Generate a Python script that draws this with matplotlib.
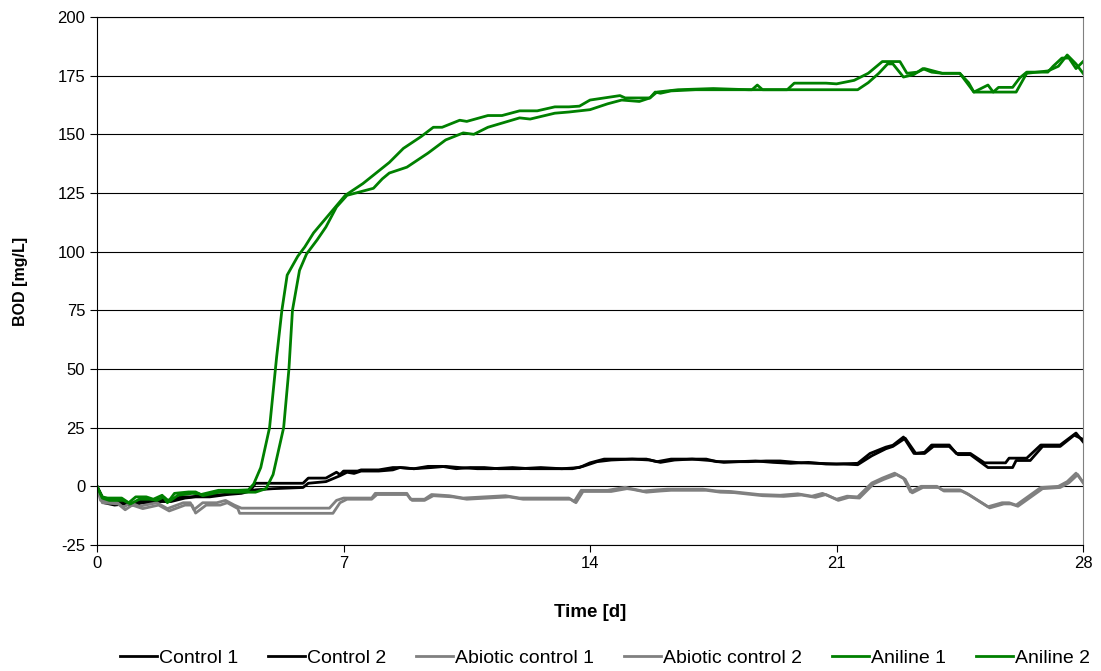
import matplotlib
matplotlib.use("Agg")
import matplotlib.pyplot as plt

plt.rcParams['font.family'] = ['Liberation Sans', 'DejaVu Sans']
plt.rcParams['axes.unicode_minus'] = False

# BOD readings per bottle, time in days
control1_t = [0, 0.2, 0.4, 0.75, 0.9, 1.2, 1.7, 2.0, 2.4, 2.65,
              3.0, 3.6, 4.0, 4.35, 4.5, 5.85, 6.0, 6.5, 6.8, 6.9,
              7.0, 7.4, 7.5, 8.0, 8.4, 8.6, 9.0, 9.4, 9.8, 10.2,
              10.6, 11.0, 11.4, 12.0, 12.6, 13.2, 13.7, 14.0, 14.4, 15.0,
              15.6, 15.9, 16.3, 17.0, 17.3, 17.6, 18.0, 18.5, 19.0, 19.4,
              20.0, 20.5, 21.0, 21.6, 21.95, 22.4, 22.6, 22.9, 23.2, 23.5,
              23.7, 24.2, 24.4, 24.8, 25.2, 25.8, 25.9, 26.4, 26.8, 27.35,
              27.8, 28.0]
control1_v = [0, -6, -6.5, -6.5, -7.5, -6.5, -5.5, -6, -4.5, -4.5,
              -4, -3.5, -2.5, -2, 1.3, 1.3, 3.5, 3.5, 6, 5,
              6.5, 6.5, 7, 7, 8, 8, 7.5, 8.5, 8.5, 7.5,
              8, 8, 7.5, 7.5, 8, 7.5, 8, 10, 11.6, 11.6,
              11.6, 10.5, 11.6, 11.6, 11.6, 10.5, 10.5, 10.5, 10.8, 10.8,
              10, 9.8, 9.5, 9.8, 14, 16.7, 17.5, 21, 14, 14.5,
              17.6, 17.6, 14, 14, 10, 10, 12, 12, 17.6, 17.6,
              22.7, 19]

control2_t = [0, 0.2, 0.5, 0.8, 1.0, 1.3, 1.8, 2.1, 2.5, 2.8,
              3.2, 3.7, 4.1, 4.5, 5.0, 5.85, 6.0, 6.5, 6.9, 7.1,
              7.3, 7.5, 8.0, 8.4, 8.6, 9.0, 9.5, 9.9, 10.3, 10.8,
              11.2, 11.8, 12.3, 12.9, 13.5, 13.8, 14.2, 14.6, 15.2, 15.7,
              16.0, 16.4, 16.9, 17.4, 17.8, 18.2, 18.7, 19.2, 19.7, 20.2,
              20.7, 21.2, 21.6, 22.0, 22.4, 22.6, 22.95, 23.25, 23.5, 23.75,
              24.2, 24.45, 24.8, 25.3, 26.0, 26.1, 26.5, 26.85, 27.35, 27.75,
              28.0]
control2_v = [0, -7, -8, -7.5, -8, -7, -6.5, -6.5, -5, -4.5,
              -4.5, -3.5, -3, -1.5, -1, -0.5, 1.3, 2, 4.5, 6,
              5.5, 6.5, 6.5, 7, 8, 7.5, 8, 8.5, 8, 7.5,
              7.5, 8, 7.5, 7.5, 7.5, 8.5, 10.5, 11.2, 11.6, 11.2,
              10.2, 11.2, 11.6, 11, 10.2, 10.5, 10.8, 10.2, 9.8, 10.2,
              9.5, 9.5, 9.2, 13, 16, 17, 20.5, 14, 14, 17,
              17, 13.5, 13.5, 8, 8, 11, 11, 17, 17, 21.8,
              20]

abiotic1_t = [0, 0.1, 0.55, 0.75, 0.95, 1.2, 1.7, 2.0, 2.45, 2.65,
              2.75, 3.0, 3.4, 3.65, 3.9, 4.1, 6.6, 6.8, 7.0, 7.8,
              7.9, 8.8, 8.9, 9.3, 9.5, 10.0, 10.4, 11.0, 11.6, 12.0,
              13.4, 13.55, 13.75, 14.5, 15.0, 15.1, 15.5, 15.9, 16.2, 17.2,
              17.6, 18.0, 18.8, 19.4, 19.9, 20.3, 20.6, 21.0, 21.3, 21.6,
              22.0, 22.3, 22.65, 22.9, 23.1, 23.4, 23.85, 24.0, 24.5, 24.7,
              25.3, 25.7, 25.9, 26.1, 26.8, 27.3, 27.55, 27.8, 28.0]
abiotic1_v = [0, -6, -6.7, -9, -7, -8.5, -7, -9.5, -7, -7,
              -10, -7, -7, -6, -8, -9.3, -9.3, -6, -5, -5,
              -3, -3, -5.5, -5.5, -3.5, -4, -5, -4.5, -4, -5,
              -5, -6.5, -1.7, -1.7, -0.4, -0.8, -2, -1.5, -1.2, -1.2,
              -2, -2.2, -3.5, -3.8, -3.2, -4.2, -3, -5.5, -4.2, -4.5,
              1.4, 3.5, 5.6, 3.5, -2.4, 0, 0, -1.5, -1.5, -3,
              -8.7, -7, -7, -8, -0.5, 0, 2, 5.6, 1.8]

abiotic2_t = [0, 0.15, 0.6, 0.8, 1.0, 1.3, 1.75, 2.05, 2.5, 2.7,
              2.8, 3.1, 3.5, 3.7, 4.0, 4.05, 6.7, 6.9, 7.1, 7.8,
              7.95, 8.8, 8.95, 9.3, 9.55, 10.1, 10.5, 11.1, 11.7, 12.1,
              13.45, 13.6, 13.8, 14.6, 15.05, 15.2, 15.6, 16.0, 16.3, 17.3,
              17.7, 18.1, 18.9, 19.5, 20.0, 20.4, 20.7, 21.05, 21.35, 21.65,
              22.05, 22.35, 22.7, 22.95, 23.15, 23.45, 23.9, 24.05, 24.55, 24.75,
              25.35, 25.75, 25.95, 26.15, 26.85, 27.35, 27.6, 27.85, 28.0]
abiotic2_v = [0, -7, -7.5, -10, -8, -9.5, -8, -10.5, -8, -8,
              -11.4, -8, -8, -7, -9.5, -11.5, -11.5, -7, -5.5, -5.5,
              -3.5, -3.5, -6, -6, -4, -4.5, -5.5, -5, -4.5, -5.5,
              -5.5, -7, -2.2, -2.2, -1, -1.3, -2.5, -2, -1.7, -1.7,
              -2.5, -2.7, -4, -4.3, -3.7, -4.7, -3.5, -6, -4.7, -5,
              1, 3, 5, 3, -2.8, -0.5, -0.5, -2, -2, -3.5,
              -9.2, -7.5, -7.5, -8.5, -1, -0.5, 1.5, 5, 1.5]

aniline1_t = [0, 0.15, 0.3, 0.7, 0.9, 1.1, 1.4, 1.6, 1.85, 2.0,
              2.2, 2.6, 2.8, 2.95, 3.45, 3.7, 4.0, 4.3, 4.45, 4.65,
              4.9, 5.1, 5.25, 5.4, 5.7, 5.9, 6.15, 6.6, 7.05, 7.55,
              8.3, 8.7, 9.2, 9.55, 9.8, 10.3, 10.5, 11.1, 11.5, 12.0,
              12.5, 13.0, 13.4, 13.7, 14.0, 14.85, 15.0, 15.7, 15.85, 16.0,
              16.3, 17.0, 18.6, 18.75, 18.9, 19.6, 19.8, 20.7, 21.0, 21.5,
              21.9, 22.3, 22.8, 23.0, 23.3, 23.5, 24.0, 24.5, 24.8, 24.9,
              25.5, 26.1, 26.4, 27.0, 27.3, 27.55, 27.8, 28.0]
aniline1_v = [0, -4.5, -5, -5, -7, -4.5, -4.5, -5.5, -3.8, -7,
              -3, -2.4, -2.4, -3.5, -1.7, -1.7, -1.7, -1.5, 1, 8,
              25, 55, 75, 90, 98, 102, 108, 116, 124, 129,
              138, 144, 149, 153, 153, 156, 155.5, 158, 158, 160,
              160, 161.7, 161.7, 162, 164.6, 166.5, 165.5, 165.5, 168, 167.5,
              168.5, 169, 169, 171, 169, 169, 171.8, 171.8, 171.5, 173,
              176, 181, 181, 176, 176.5, 178, 176, 176, 170, 168,
              168, 168, 176, 177, 179, 183.8, 180, 176]

aniline2_t = [0, 0.15, 0.35, 0.75, 0.95, 1.2, 1.5, 1.7, 1.9, 2.05,
              2.3, 2.7, 2.9, 3.0, 3.5, 3.8, 4.1, 4.5, 4.8, 5.0,
              5.3, 5.45, 5.55, 5.75, 5.95, 6.25, 6.5, 6.8, 7.1, 7.85,
              8.1, 8.3, 8.8, 9.4, 9.9, 10.4, 10.7, 11.1, 12.0, 12.3,
              13.0, 13.4, 14.0, 14.5, 14.9, 15.4, 15.7, 15.9, 16.5, 17.5,
              18.5, 19.6, 20.7, 21.6, 21.9, 22.2, 22.45, 22.6, 22.9, 23.2,
              23.45, 23.7, 24.0, 24.5, 24.75, 24.9, 25.3, 25.45, 25.6, 26.0,
              26.2, 26.4, 27.0, 27.15, 27.4, 27.6, 27.8, 28.0]
aniline2_v = [0, -5, -6, -6, -7.5, -5.5, -5.5, -6, -4.5, -6.5,
              -3.8, -3, -3.2, -4, -2.4, -2.5, -2.5, -2.5, -1, 5,
              25, 50, 75, 92, 99, 105, 110.5, 119, 124, 127,
              131, 133.5, 136, 142, 147.6, 150.6, 150, 153, 157, 156.5,
              159, 159.5, 160.5, 163, 164.6, 164, 165.5, 168, 169, 169.5,
              169, 169, 169, 169, 172, 176, 180, 180, 174.4, 175.5,
              178, 176.5, 176, 176, 172, 168, 171, 168, 170, 170,
              174, 176.5, 176.5, 179, 182.5, 182.5, 178, 181]

fig = plt.figure(figsize=(11.01, 6.71), dpi=100)
ax = fig.add_axes([0.0881, 0.1878, 0.8956, 0.7869])

lw = 2.0
ax.plot(control1_t, control1_v, color='black', lw=lw, label='Control 1')
ax.plot(control2_t, control2_v, color='black', lw=lw, label='Control 2')
ax.plot(abiotic1_t, abiotic1_v, color='#808080', lw=lw, label='Abiotic control 1')
ax.plot(abiotic2_t, abiotic2_v, color='#808080', lw=lw, label='Abiotic control 2')
ax.plot(aniline1_t, aniline1_v, color='#008000', lw=lw, label='Aniline 1')
ax.plot(aniline2_t, aniline2_v, color='#008000', lw=lw, label='Aniline 2')

ax.set_xlim(0, 28)
ax.set_ylim(-25, 200)
ax.set_xticks([0, 7, 14, 21, 28])
ax.set_yticks(range(-25, 201, 25))
ax.yaxis.grid(True, color='black', lw=0.8)
ax.set_axisbelow(True)
ax.tick_params(labelsize=12, direction='out', length=5, width=0.8, color='black')
ax.tick_params(axis='x', pad=3)

for side in ['left', 'bottom', 'top']:
    ax.spines[side].set_color('black')
    ax.spines[side].set_linewidth(0.8)
ax.spines['right'].set_color('#808080')
ax.spines['right'].set_linewidth(0.8)

ax.set_xlabel('Time [d]', fontsize=13.5, fontweight='bold', labelpad=24)
ax.set_ylabel('BOD [mg/L]', fontsize=11.5, fontweight='bold', labelpad=21)

fig.legend(loc='center', bbox_to_anchor=(0.5495, 0.019), ncol=6, frameon=False,
           fontsize=14, handlelength=1.9, handletextpad=0.1, columnspacing=1.55,
           borderpad=0)

fig.savefig('out.png', dpi=100)
